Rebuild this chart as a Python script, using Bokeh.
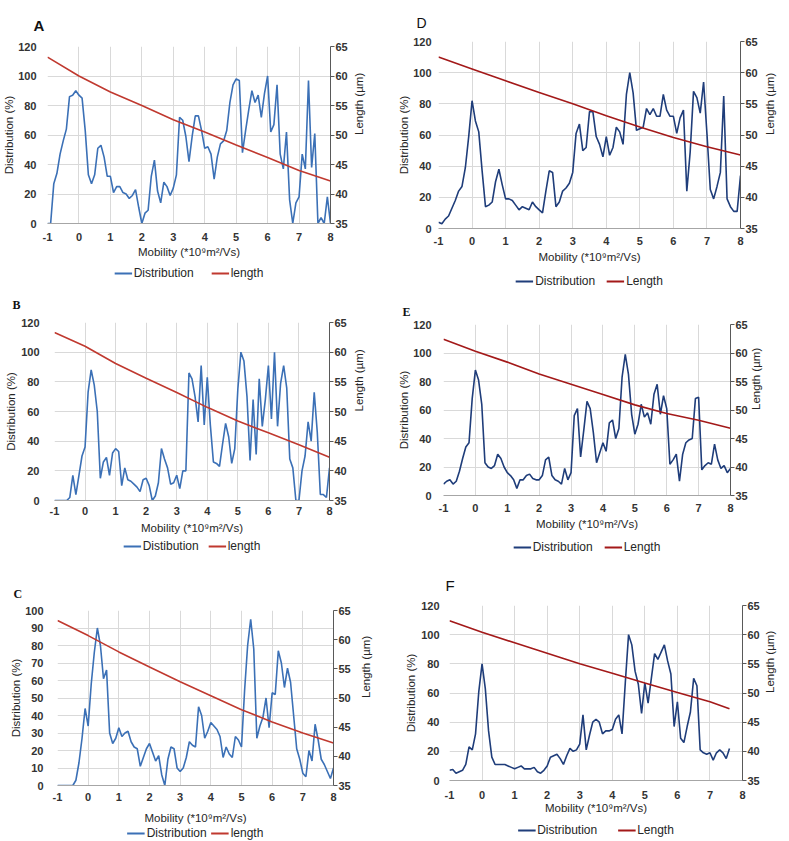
import math
from bokeh.plotting import figure
from bokeh.models import Range1d, LinearAxis, FixedTicker, Legend, LegendItem
from bokeh.layouts import column, row
from bokeh.embed import file_html
from bokeh.resources import INLINE

# ---------------- data ----------------
mobility = [round(-1 + i * 0.1, 1) for i in range(91)]
mobility_f = mobility[:87]
length_x = [-1, 0, 1, 2, 3, 4, 5, 6, 7, 8]
length_x_f = [-1, 0, 1, 2, 3, 4, 5, 6, 7, 7.6]

dist_a = [0, 0, 27, 34, 47, 56, 64, 86, 87, 90,
          87, 85, 63, 33, 27, 33, 51, 53, 45, 32,
          32, 21, 25, 25, 21, 20, 17, 19, 23, 11,
          0, 7, 9, 32, 43, 22, 14, 28, 25, 19,
          24, 33, 72, 70, 59, 42, 59, 73, 73, 63,
          51, 52, 47, 30, 45, 54, 56, 63, 82, 94,
          98, 97, 48, 63, 77, 90, 82, 87, 72, 88,
          100, 62, 67, 94, 47, 37, 62, 16, 0, 14,
          18, 47, 37, 97, 38, 61, 0, 4, 0, 18,
          0]
length_a = [63.2, 60.0, 57.3, 55.0, 52.6, 50.5, 48.3, 46.2, 44.0, 42.2]

dist_b = [0, 0, 0, 0, 0, 2, 17, 4, 17, 30,
          36, 73, 88, 78, 60, 15, 26, 29, 17, 32,
          35, 33, 10, 22, 14, 13, 11, 9, 6, 14,
          15, 10, 0, 3, 12, 35, 28, 22, 11, 12,
          17, 8, 20, 20, 86, 82, 70, 53, 91, 51,
          83, 51, 26, 25, 23, 38, 52, 43, 25, 35,
          75, 100, 94, 70, 27, 68, 31, 82, 50, 68,
          91, 55, 100, 50, 79, 91, 76, 28, 22, 0,
          0, 20, 30, 53, 40, 73, 46, 4, 4, 2,
          22]
length_b = [63.3, 61.0, 58.1, 55.6, 53.2, 50.7, 48.4, 46.4, 44.4, 42.3]

dist_c = [0, 0, 0, 0, 0, 0, 3, 13, 27, 44,
          34, 58, 76, 90, 80, 61, 66, 30, 24, 27,
          33, 28, 30, 31, 25, 22, 21, 11, 16, 21,
          24, 19, 14, 17, 6, 0, 15, 22, 21, 10,
          8, 10, 16, 25, 23, 22, 45, 40, 27, 31,
          36, 34, 32, 28, 16, 22, 18, 16, 28, 26,
          22, 54, 80, 95, 78, 27, 34, 39, 50, 33,
          53, 52, 77, 70, 56, 67, 59, 40, 21, 15,
          7, 5, 20, 14, 35, 26, 15, 12, 8, 4,
          10]
length_c = [63.3, 60.7, 57.9, 55.3, 52.8, 50.4, 48.0, 45.9, 44.0, 42.3]

dist_d = [4, 3, 6, 8, 13, 18, 24, 27, 39, 59,
          82, 69, 62, 37, 14, 15, 17, 30, 38, 28,
          19, 19, 18, 15, 12, 14, 13, 12, 17, 14,
          12, 10, 24, 37, 36, 14, 17, 24, 26, 29,
          36, 61, 67, 50, 52, 75, 75, 59, 54, 46,
          59, 47, 52, 65, 62, 54, 86, 100, 87, 63,
          64, 65, 77, 73, 77, 72, 72, 86, 76, 72,
          72, 61, 71, 76, 24, 49, 88, 84, 74, 94,
          61, 25, 19, 27, 36, 85, 19, 14, 11, 11,
          34]
length_d = [62.5, 60.6, 58.7, 56.8, 55.0, 53.1, 51.3, 49.6, 48.1, 46.8]

dist_e = [8, 10, 11, 8, 10, 17, 26, 34, 37, 68,
          88, 81, 64, 23, 20, 19, 21, 29, 26, 20,
          16, 14, 11, 5, 11, 11, 14, 15, 12, 11,
          11, 14, 25, 27, 14, 11, 10, 8, 19, 11,
          16, 56, 61, 27, 46, 66, 61, 44, 23, 30,
          37, 31, 51, 53, 40, 47, 83, 99, 85, 57,
          43, 50, 64, 55, 58, 50, 71, 78, 57, 70,
          61, 22, 25, 29, 10, 29, 37, 39, 40, 68,
          69, 18, 21, 23, 22, 36, 25, 19, 21, 16,
          19]
length_e = [62.4, 60.3, 58.4, 56.3, 54.5, 52.7, 50.9, 49.4, 48.2, 46.8]

dist_f = [7, 7.5, 5, 6, 7, 11, 23, 21, 32, 61,
          80, 63, 34, 16, 11, 11, 11, 11, 10, 9,
          8, 9, 10, 8, 8, 8, 9, 6, 5, 7,
          10, 16, 17, 18, 15, 11, 17, 22, 20, 21,
          25, 45, 21, 31, 40, 42, 40, 32, 34, 34,
          35, 42, 45, 32, 67, 100, 93, 75, 66, 46,
          67, 53, 70, 87, 83, 88, 93, 82, 73, 37,
          54, 29, 26, 37, 47, 70, 65, 21, 19, 18,
          19, 14, 19, 21, 19, 15, 22]
length_f = [62.4, 60.4, 58.6, 56.8, 55.0, 53.4, 51.7, 50.1, 48.5, 47.3]

x_ticks = [-1, 0, 1, 2, 3, 4, 5, 6, 7, 8]
length_ticks = [35, 40, 45, 50, 55, 60, 65]
x_title = "Mobility (*10\u2079m\u00b2/Vs)"
y_title = "Distribution (%)"
y2_title = "Length (\u00b5m)"

BLUE_1 = "#3b70b6"
RED_1 = "#c0392f"
BLUE_2 = "#1f3d7a"
RED_2 = "#a31919"
GRID = "#d9d9d9"
TXT = "#262626"
FONT = "Liberation Sans"
SERIF = "Liberation Serif"

# b = (left, right, top, bottom) borders of the chart; legb = (left, right) of legend strip
panels = {
    "A": dict(x=mobility, d=dist_a, lx=length_x, l=length_a, ymax=120, ystep=20,
              blue=BLUE_1, red=RED_1, dlab="Distribution", llab="length",
              w=395, h=262, b=(42, 65, 46, 39), legh=22, legb=(0, 63), legsp=17,
              tfont=FONT, tsize="15px", tstyle="bold", toff=-14, tstand=25,
              lstand=5, lastand=0, bstand=3, bastand=2, rastand=8),
    "B": dict(x=mobility, d=dist_b, lx=length_x, l=length_b, ymax=120, ystep=20,
              blue=BLUE_1, red=RED_1, dlab="Distibution", llab="length",
              w=395, h=252, b=(54, 66, 38, 36), legh=20, legb=(0, 29), legsp=9,
              tfont=SERIF, tsize="12px", tstyle="bold", toff=-42, tstand=21,
              lstand=9, lastand=1, bstand=0, bastand=4, rastand=9),
    "C": dict(x=mobility, d=dist_c, lx=length_x, l=length_c, ymax=100, ystep=10,
              blue=BLUE_1, red=RED_1, dlab="Distribution", llab="length",
              w=395, h=270, b=(57, 62, 54, 41), legh=14, legb=(0, 29), legsp=4,
              tfont=SERIF, tsize="12px", tstyle="bold", toff=-44, tstand=19,
              lstand=8, lastand=0, bstand=1, bastand=8, rastand=12),
    "D": dict(x=mobility, d=dist_d, lx=length_x, l=length_d, ymax=120, ystep=20,
              blue=BLUE_2, red=RED_2, dlab="Distribution", llab="Length",
              w=393, h=266, b=(35, 48, 41, 38), legh=30, legb=(0, 0), legsp=11,
              tfont=FONT, tsize="14px", tstyle="normal", toff=-22, tstand=21,
              lstand=1, lastand=0, bstand=2, bastand=3, rastand=9),
    "E": dict(x=mobility, d=dist_e, lx=length_x, l=length_e, ymax=120, ystep=20,
              blue=BLUE_2, red=RED_2, dlab="Distribution", llab="Length",
              w=393, h=237, b=(47, 58, 28, 38), legh=28, legb=(5, 0), legsp=11,
              tfont=SERIF, tsize="12px", tstyle="bold", toff=-41, tstand=11,
              lstand=6, lastand=0, bstand=2, bastand=3, rastand=5),
    "F": dict(x=mobility_f, d=dist_f, lx=length_x_f, l=length_f, ymax=120, ystep=20,
              blue=BLUE_2, red=RED_2, dlab="Distribution", llab="Length",
              w=393, h=258, b=(54, 46, 44, 39), legh=21, legb=(33, 0), legsp=20,
              tfont=FONT, tsize="15px", tstyle="normal", toff=-4, tstand=23,
              lstand=4, lastand=1, bstand=4, bastand=0, rastand=7),
}


def style_labels(ax):
    ax.major_label_text_font = FONT
    ax.major_label_text_font_style = "bold"
    ax.major_label_text_font_size = "11px"
    ax.major_label_text_color = "#333333"
    ax.axis_label_text_font = FONT
    ax.axis_label_text_font_style = "normal"
    ax.axis_label_text_font_size = "11.5px"
    ax.axis_label_text_color = TXT
    ax.minor_tick_line_color = None


def make_panel(letter, c):
    bl, br, bt, bb = c["b"]
    p = figure(width=c["w"], height=c["h"], x_range=Range1d(-1, 8),
               y_range=Range1d(0, c["ymax"]), output_backend="svg",
               toolbar_location=None, tools="", title=letter,
               min_border_left=bl, min_border_right=br,
               min_border_top=bt, min_border_bottom=bb)
    p.outline_line_color = None
    p.background_fill_color = "white"
    p.border_fill_color = "white"

    p.title.align = "left"
    p.title.text_font = c["tfont"]
    p.title.text_font_size = c["tsize"]
    p.title.text_font_style = c["tstyle"]
    p.title.text_color = "#111111"
    p.title.offset = c["toff"]
    p.title.standoff = c["tstand"]

    yt = list(range(0, c["ymax"] + 1, c["ystep"]))
    p.extra_y_ranges = {"len": Range1d(35, 65)}

    xa = p.xaxis[0]
    xa.ticker = FixedTicker(ticks=x_ticks)
    xa.major_label_overrides = {-1: "-1"}
    xa.axis_label = x_title
    style_labels(xa)
    xa.axis_line_color = "#a6a6a6"
    xa.major_tick_line_color = None
    xa.major_label_standoff = c["bstand"]
    xa.axis_label_standoff = c["bastand"]

    ya = p.yaxis[0]
    ya.ticker = FixedTicker(ticks=yt)
    ya.axis_label = y_title
    style_labels(ya)
    ya.axis_line_color = None
    ya.major_tick_line_color = None
    ya.major_label_standoff = c["lstand"]
    ya.axis_label_standoff = c["lastand"]

    ra = LinearAxis(y_range_name="len", ticker=FixedTicker(ticks=length_ticks),
                    axis_label=y2_title)
    style_labels(ra)
    ra.axis_line_color = "#595959"
    ra.major_tick_line_color = "#595959"
    ra.major_tick_out = 4
    ra.major_tick_in = 0
    ra.major_label_standoff = 1
    ra.axis_label_standoff = c["rastand"]
    try:
        ra.axis_label_orientation = math.pi / 2
    except Exception:
        pass
    p.add_layout(ra, "right")

    p.xgrid.ticker = FixedTicker(ticks=x_ticks)
    p.ygrid.ticker = FixedTicker(ticks=yt)
    for g in (p.xgrid, p.ygrid):
        g.grid_line_color = GRID
        g.grid_line_width = 1

    p.line(c["x"], c["d"], line_color=c["blue"], line_width=1.6)
    p.line(c["lx"], c["l"], y_range_name="len", line_color=c["red"], line_width=1.6)

    # legend strip below the chart (series drawn out of view, only the legend shows)
    lb, lr = c["legb"]
    q = figure(width=c["w"], height=c["legh"], x_range=Range1d(100, 101),
               y_range=Range1d(500, 501),
               output_backend="svg", toolbar_location=None, tools="",
               x_axis_location=None, y_axis_location=None,
               min_border_left=lb, min_border_right=lr, min_border_top=0, min_border_bottom=0)
    q.outline_line_color = None
    q.grid.visible = False
    q.background_fill_color = "white"
    q.border_fill_color = "white"
    g1 = q.line(c["x"], c["d"], line_color=c["blue"], line_width=2)
    g2 = q.line(c["lx"], c["l"], line_color=c["red"], line_width=2)
    leg = Legend(items=[LegendItem(label=c["dlab"], renderers=[g1]),
                        LegendItem(label=c["llab"], renderers=[g2])],
                 orientation="horizontal", location="center")
    leg.label_text_font = FONT
    leg.label_text_font_size = "12px"
    leg.label_text_color = TXT
    leg.glyph_width = 18
    leg.glyph_height = 12
    leg.label_height = 12
    leg.label_standoff = 2
    leg.spacing = c["legsp"]
    leg.padding = 0
    leg.margin = 0
    leg.border_line_color = None
    leg.background_fill_alpha = 0
    q.add_layout(leg)
    return column(p, q)


figs = {k: make_panel(k, v) for k, v in panels.items()}
layout = row(column(figs["A"], figs["B"], figs["C"]),
             column(figs["D"], figs["E"], figs["F"]))

open("out.html", "w").write(file_html(layout, INLINE))
